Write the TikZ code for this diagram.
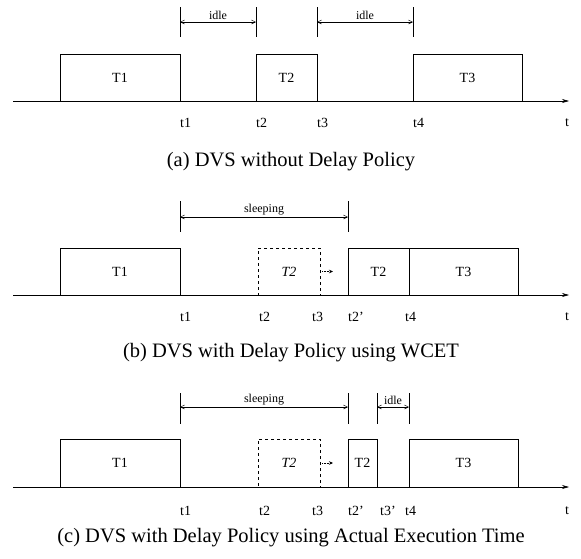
\documentclass[tikz,border=0pt]{standalone}
\usepackage{fontspec}
\setmainfont{Liberation Serif}
\usetikzlibrary{arrows.meta, positioning}

\begin{document}
\begin{tikzpicture}[
      x=1pt, y=-1pt,
      base/.style={draw, line width=0.6pt, anchor=south west, inner sep=0pt, outer sep=0pt, font=\fontsize{14}{16}\selectfont},
      task/.style={base},
      ghost/.style={base, dashed, font=\fontsize{14}{16}\selectfont\itshape},
      timeaxis/.style={-{Stealth[length=7pt, width=4pt]}, line width=0.6pt},
      tickline/.style={line width=0.6pt},
      span/.style={{Straight Barb[length=4pt, width=4pt]}-{Straight Barb[length=4pt, width=4pt]}, line width=0.5pt},
      nudge/.style={densely dotted, -{Stealth[length=4pt, width=3.5pt]}, line width=0.5pt},
      lbl/.style={font=\fontsize{12}{14}\selectfont, inner sep=2pt},
      tlbl/.style={font=\fontsize{14}{16}\selectfont, anchor=west, inner sep=0pt},
      subcap/.style={font=\fontsize{20.5}{24}\selectfont}
    ]
    \useasboundingbox (0,0) rectangle (581,558);

    % ---- (a) DVS without delay ----
    \coordinate (a-o)   at (13,101);
    \coordinate (a-end) at (569,101);
    \draw[timeaxis] (a-o) -- (a-end);

    \node[task, minimum width=120pt, minimum height=47pt] (a-T1) at (60,101)  {T1};
    \node[task, minimum width=61pt,  minimum height=47pt] (a-T2) at (256,101) {T2};
    \node[task, minimum width=109pt, minimum height=47pt] (a-T3) at (413,101) {T3};

    \coordinate (a-s1) at (180,22);
    \coordinate (a-s2) at (256,22);
    \coordinate (a-s3) at (317,22);
    \coordinate (a-s4) at (413,22);
    \draw[tickline] ([yshift=15pt]a-s1) -- ([yshift=-15pt]a-s1);
    \draw[tickline] ([yshift=15pt]a-s2) -- ([yshift=-15pt]a-s2);
    \draw[tickline] ([yshift=15pt]a-s3) -- ([yshift=-15pt]a-s3);
    \draw[tickline] ([yshift=15pt]a-s4) -- ([yshift=-15pt]a-s4);
    \draw[span] (a-s1) -- node[lbl, above]{idle} (a-s2);
    \draw[span] (a-s3) -- node[lbl, above]{idle} (a-s4);

    \node[tlbl] (a-t1) at (180,123) {t1};
    \node[tlbl] (a-t2) at (256,123) {t2};
    \node[tlbl] (a-t3) at (317,123) {t3};
    \node[tlbl] (a-t4) at (413,123) {t4};
    \node[tlbl] (a-t)  at (565,123) {t};

    \node[subcap] (a-cap) at (291,162) {(a) DVS without Delay Policy};

    % ---- (b) delay policy, WCET ----
    \coordinate (b-o)   at (13,295);
    \coordinate (b-end) at (569,295);
    \draw[timeaxis] (b-o) -- (b-end);

    \node[task,  minimum width=120pt, minimum height=47pt] (b-T1) at (60,295)  {T1};
    \node[ghost, minimum width=62pt,  minimum height=47pt] (b-G2) at (258,295) {T2};
    \node[task,  minimum width=61pt,  minimum height=47pt] (b-T2) at (348,295) {T2};
    \node[task,  minimum width=109pt, minimum height=47pt, right=0pt of b-T2] (b-T3) {T3};

    \coordinate (b-n) at (333,271.5);
    \draw[nudge] ([xshift=2pt]b-G2.east) -- (b-n);

    \coordinate (b-s1) at (180,217);
    \coordinate (b-s2) at (348,217);
    \draw[tickline] ([yshift=16pt]b-s1) -- ([yshift=-15pt]b-s1);
    \draw[tickline] ([yshift=16pt]b-s2) -- ([yshift=-15pt]b-s2);
    \draw[span] (b-s1) -- node[lbl, above]{sleeping} (b-s2);

    \node[tlbl] (b-t1)  at (180,317) {t1};
    \node[tlbl] (b-t2)  at (259,317) {t2};
    \node[tlbl] (b-t3)  at (312,317) {t3};
    \node[tlbl] (b-t2p) at (348,317) {t2'};
    \node[tlbl] (b-t4)  at (405,317) {t4};
    \node[tlbl] (b-t)   at (565,317) {t};

    \node[subcap] (b-cap) at (291,353) {(b) DVS with Delay Policy using WCET};

    % ---- (c) delay policy, actual execution time ----
    \coordinate (c-o)   at (13,487);
    \coordinate (c-end) at (569,487);
    \draw[timeaxis] (c-o) -- (c-end);

    \node[task,  minimum width=120pt, minimum height=48pt] (c-T1) at (60,487)  {T1};
    \node[ghost, minimum width=62pt,  minimum height=48pt] (c-G2) at (258,487) {T2};
    \node[task,  minimum width=29pt,  minimum height=48pt] (c-T2) at (348,487) {T2};
    \node[task,  minimum width=109pt, minimum height=48pt] (c-T3) at (409,487) {T3};

    \coordinate (c-n) at (333,463);
    \draw[nudge] ([xshift=2pt]c-G2.east) -- (c-n);

    \coordinate (c-s1) at (180,407);
    \coordinate (c-s2) at (348,407);
    \coordinate (c-s3) at (377,407);
    \coordinate (c-s4) at (409,407);
    \draw[tickline] ([yshift=14pt]c-s1) -- ([yshift=-17pt]c-s1);
    \draw[tickline] ([yshift=14pt]c-s2) -- ([yshift=-17pt]c-s2);
    \draw[tickline] ([yshift=14pt]c-s3) -- ([yshift=-17pt]c-s3);
    \draw[tickline] ([yshift=14pt]c-s4) -- ([yshift=-17pt]c-s4);
    \draw[span] (c-s1) -- node[lbl, above]{sleeping} (c-s2);
    \draw[span] (c-s3) -- node[lbl, above]{idle} (c-s4);

    \node[tlbl] (c-t1)  at (180,511) {t1};
    \node[tlbl] (c-t2)  at (259,511) {t2};
    \node[tlbl] (c-t3)  at (312,511) {t3};
    \node[tlbl] (c-t2p) at (348,511) {t2'};
    \node[tlbl] (c-t3p) at (380,511) {t3'};
    \node[tlbl] (c-t4)  at (405,511) {t4};
    \node[tlbl] (c-t)   at (565,511) {t};

    \node[subcap] (c-cap) at (291,538) {(c) DVS with Delay Policy using Actual Execution Time};

\end{tikzpicture}
\end{document}
